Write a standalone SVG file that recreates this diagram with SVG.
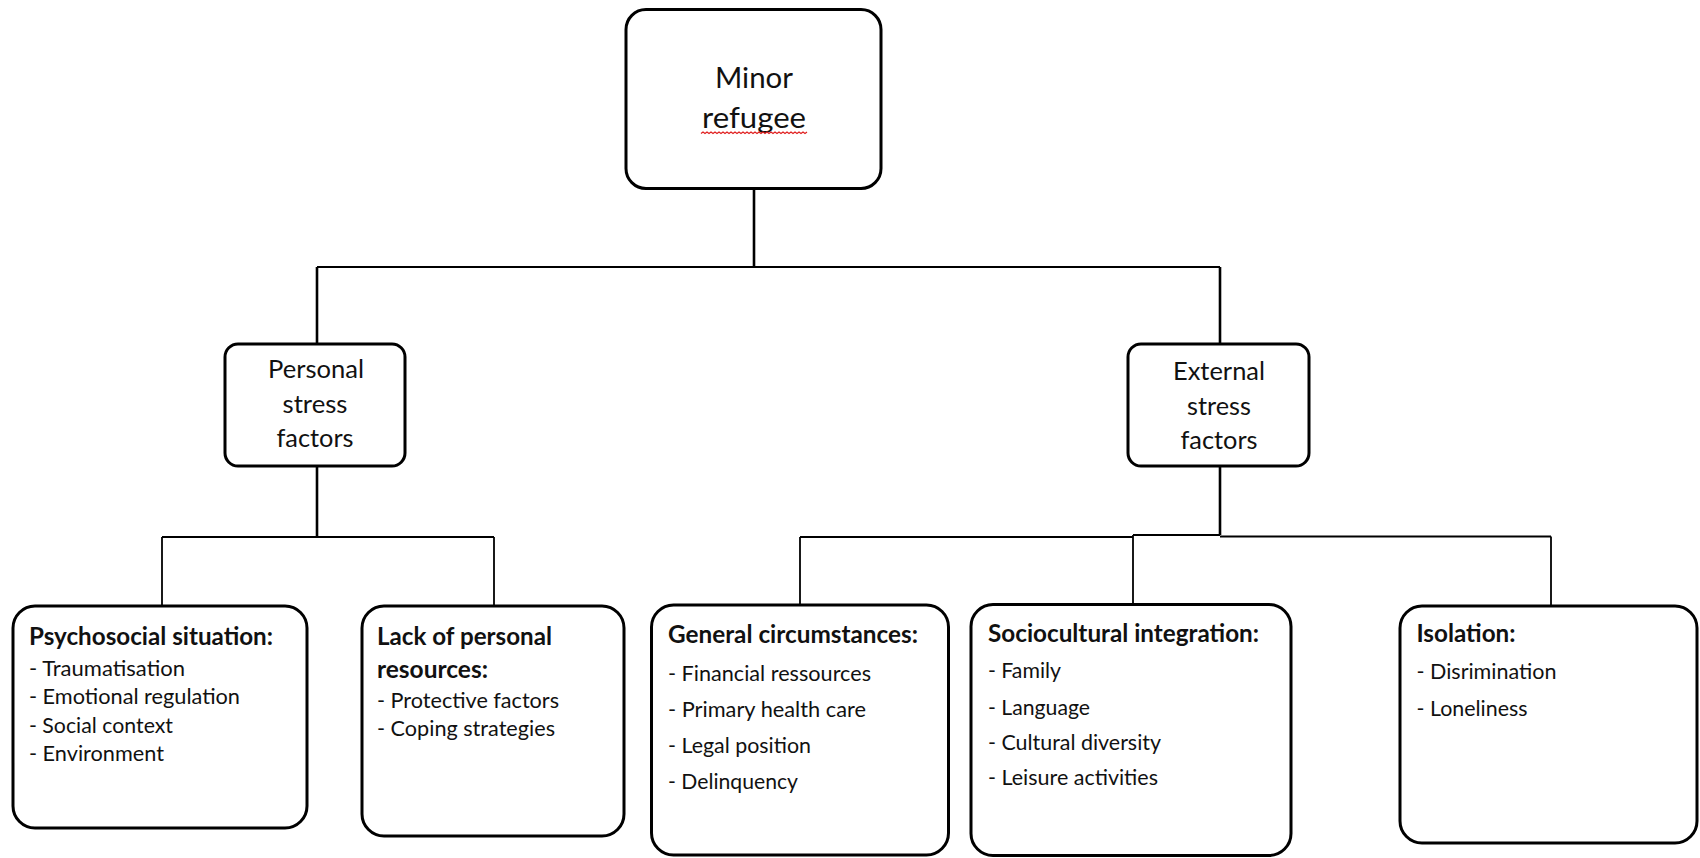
<svg xmlns="http://www.w3.org/2000/svg" width="1700" height="858" viewBox="0 0 1700 858">
<defs>
<style>
.box{fill:#fff;stroke:#000;stroke-width:3}
.conn{fill:none;stroke:#000;stroke-width:2}
.thick{stroke-width:2.6}
.thin{stroke-width:1.8}
.t{font-family:Lato,"Liberation Sans",sans-serif;fill:#111}
.big{font-size:29px}
.mid{font-size:25px}
.h{font-size:24px;font-weight:bold}
.i{font-size:21.5px}
.c{text-anchor:middle}
</style>
</defs>
<rect width="1700" height="858" fill="#fff"/>
<g id="connectors">
<path class="conn thick" d="M754,189 V267"/>
<path class="conn" d="M317,267 H1220"/>
<path class="conn thick" d="M317,267 V344"/>
<path class="conn thick" d="M1220,267 V344"/>
<path class="conn thick" d="M317,466 V537"/>
<path class="conn thin" d="M162,537 H494"/>
<path class="conn thin" d="M162,537 V606"/>
<path class="conn thin" d="M494,537 V606"/>
<path class="conn thick" d="M1220,466 V535"/>
<path class="conn thin" d="M800,537 H1133"/>
<path class="conn thin" d="M1133,535 H1220"/>
<path class="conn thin" d="M1220,536.5 H1551"/>
<path class="conn thin" d="M800,537 V605"/>
<path class="conn thin" d="M1133,535 V605"/>
<path class="conn thin" d="M1551,536.5 V606"/>
</g>
<g id="minor-refugee">
<rect class="box" x="626" y="9.5" width="255" height="179" rx="20"/>
<text class="t big c" x="754" y="88" textLength="78" lengthAdjust="spacingAndGlyphs">Minor</text>
<text class="t big c" x="754" y="128" textLength="104" lengthAdjust="spacingAndGlyphs">refugee</text>
<path d="M701,133.5 l2,-1.5 l2,1.5 l2,-1.5 l2,1.5 l2,-1.5 l2,1.5 l2,-1.5 l2,1.5 l2,-1.5 l2,1.5 l2,-1.5 l2,1.5 l2,-1.5 l2,1.5 l2,-1.5 l2,1.5 l2,-1.5 l2,1.5 l2,-1.5 l2,1.5 l2,-1.5 l2,1.5 l2,-1.5 l2,1.5 l2,-1.5 l2,1.5 l2,-1.5 l2,1.5 l2,-1.5 l2,1.5 l2,-1.5 l2,1.5 l2,-1.5 l2,1.5 l2,-1.5 l2,1.5 l2,-1.5 l2,1.5 l2,-1.5 l2,1.5 l2,-1.5 l2,1.5 l2,-1.5 l2,1.5 l2,-1.5 l2,1.5 l2,-1.5 l2,1.5 l2,-1.5 l2,1.5 l2,-1.5 l2,1.5 l2,-1.5" fill="none" stroke="#e02020" stroke-width="1.2"/>
</g>
<g id="personal-stress-factors">
<rect class="box" x="225" y="344" width="180" height="122" rx="13"/>
<text class="t mid c" x="316" y="378" textLength="96" lengthAdjust="spacingAndGlyphs">Personal</text>
<text class="t mid c" x="315" y="413" textLength="65" lengthAdjust="spacingAndGlyphs">stress</text>
<text class="t mid c" x="315" y="447" textLength="77" lengthAdjust="spacingAndGlyphs">factors</text>
</g>
<g id="external-stress-factors">
<rect class="box" x="1128" y="344" width="181" height="122" rx="13"/>
<text class="t mid c" x="1219" y="380" textLength="92" lengthAdjust="spacingAndGlyphs">External</text>
<text class="t mid c" x="1219" y="415" textLength="64" lengthAdjust="spacingAndGlyphs">stress</text>
<text class="t mid c" x="1219" y="449" textLength="77" lengthAdjust="spacingAndGlyphs">factors</text>
</g>
<g id="psychosocial-situation">
<rect class="box" x="13" y="606" width="294" height="222" rx="22"/>
<text class="t h" x="29" y="645" textLength="244" lengthAdjust="spacingAndGlyphs">Psychosocial situation:</text>
<text class="t i" x="29" y="676" textLength="156" lengthAdjust="spacingAndGlyphs">- Traumatisation</text>
<text class="t i" x="29" y="704" textLength="211" lengthAdjust="spacingAndGlyphs">- Emotional regulation</text>
<text class="t i" x="29" y="732.5" textLength="144" lengthAdjust="spacingAndGlyphs">- Social context</text>
<text class="t i" x="29" y="760.5" textLength="135" lengthAdjust="spacingAndGlyphs">- Environment</text>
</g>
<g id="lack-of-personal-resources">
<rect class="box" x="362" y="606" width="262" height="230" rx="22"/>
<text class="t h" x="377" y="645" textLength="175" lengthAdjust="spacingAndGlyphs">Lack of personal</text>
<text class="t h" x="377" y="678" textLength="111" lengthAdjust="spacingAndGlyphs">resources:</text>
<text class="t i" x="377" y="708" textLength="182" lengthAdjust="spacingAndGlyphs">- Protective factors</text>
<text class="t i" x="377" y="736" textLength="178" lengthAdjust="spacingAndGlyphs">- Coping strategies</text>
</g>
<g id="general-circumstances">
<rect class="box" x="651.5" y="605" width="297" height="250" rx="22"/>
<text class="t h" x="668" y="643" textLength="250" lengthAdjust="spacingAndGlyphs">General circumstances:</text>
<text class="t i" x="668" y="680.5" textLength="203" lengthAdjust="spacingAndGlyphs">- Financial ressources</text>
<text class="t i" x="668" y="716.5" textLength="198" lengthAdjust="spacingAndGlyphs">- Primary health care</text>
<text class="t i" x="668" y="752.5" textLength="143" lengthAdjust="spacingAndGlyphs">- Legal position</text>
<text class="t i" x="668" y="788.5" textLength="130" lengthAdjust="spacingAndGlyphs">- Delinquency</text>
</g>
<g id="sociocultural-integration">
<rect class="box" x="971" y="604.5" width="320" height="251" rx="22"/>
<text class="t h" x="988" y="642" textLength="271" lengthAdjust="spacingAndGlyphs">Sociocultural integration:</text>
<text class="t i" x="988" y="678" textLength="73" lengthAdjust="spacingAndGlyphs">- Family</text>
<text class="t i" x="988" y="714.5" textLength="102" lengthAdjust="spacingAndGlyphs">- Language</text>
<text class="t i" x="988" y="750" textLength="173" lengthAdjust="spacingAndGlyphs">- Cultural diversity</text>
<text class="t i" x="988" y="785" textLength="170" lengthAdjust="spacingAndGlyphs">- Leisure activities</text>
</g>
<g id="isolation">
<rect class="box" x="1400" y="606" width="297" height="237" rx="22"/>
<text class="t h" x="1416.5" y="642" textLength="99" lengthAdjust="spacingAndGlyphs">Isolation:</text>
<text class="t i" x="1416.5" y="679" textLength="140" lengthAdjust="spacingAndGlyphs">- Disrimination</text>
<text class="t i" x="1416.5" y="716" textLength="111" lengthAdjust="spacingAndGlyphs">- Loneliness</text>
</g>
</svg>
